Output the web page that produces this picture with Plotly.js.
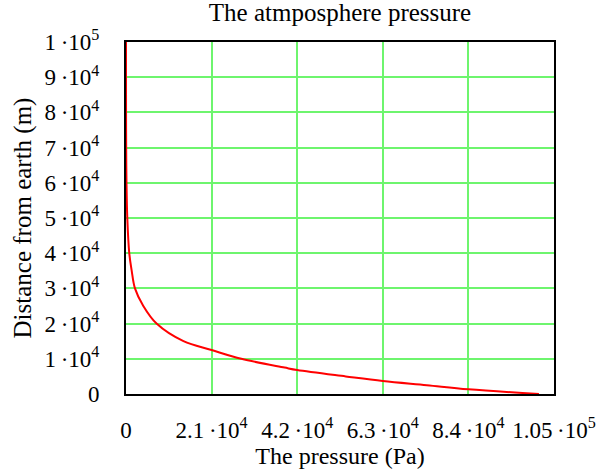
<!DOCTYPE html>
<html>
<head>
<meta charset="utf-8">
<script src="https://cdn.plot.ly/plotly-3.0.1.min.js"></script>
<style>html,body{margin:0;padding:0;background:#fff;}#chart{width:597px;height:471px;}</style>
</head>
<body>
<div id="chart"></div>
<script>
// Values
const heights = [0, 1330, 2500, 3690, 5000, 6820, 7500, 10000, 12500, 15000, 20000, 25000, 30000, 35000, 40000, 50000, 60000, 70000, 80000, 90000, 100000];
const pressures = [101300, 84000, 73800, 63000, 53900, 42000, 38900, 28300, 21000, 14100, 7500, 4250, 2200, 1400, 800, 320, 120, 45, 15, 5, 2];

const xTickVals = [0, 21000, 42000, 63000, 84000, 105000];
const xTickText = ["0", "2.1\u2009·10<sup>4</sup>", "4.2\u2009·10<sup>4</sup>", "6.3\u2009·10<sup>4</sup>", "8.4\u2009·10<sup>4</sup>", "1.05\u2009·10<sup>5</sup>"];
const yTickVals = [0, 10000, 20000, 30000, 40000, 50000, 60000, 70000, 80000, 90000, 100000];
const yTickText = ["0", "1\u2009·10<sup>4</sup>", "2\u2009·10<sup>4</sup>", "3\u2009·10<sup>4</sup>", "4\u2009·10<sup>4</sup>", "5\u2009·10<sup>4</sup>", "6\u2009·10<sup>4</sup>", "7\u2009·10<sup>4</sup>", "8\u2009·10<sup>4</sup>", "9\u2009·10<sup>4</sup>", "1\u2009·10<sup>5</sup>"];

const FONT = '"Liberation Serif", "DejaVu Serif", serif';
const GRID = 'rgb(110,245,110)';

const trace = {
  x: pressures, y: heights, type: 'scatter', mode: 'lines',
  line: {color: 'rgb(255,0,0)', width: 2, shape: 'spline'},
  hoverinfo: 'none'
};

const layout = {
  width: 597, height: 471,
  margin: {l: 126, r: 43, t: 42, b: 77},
  paper_bgcolor: '#fff', plot_bgcolor: '#fff',
  showlegend: false,
  font: {family: FONT, color: '#000', size: 23},
  title: {text: 'The atmposphere pressure', font: {family: FONT, size: 25, color: '#000'}, x: 340/597, xanchor: 'center', y: 0.992, yanchor: 'top'},
  xaxis: {
    range: [0, 105000], tickmode: 'array', tickvals: xTickVals, ticktext: xTickText,
    showgrid: true, gridcolor: GRID, gridwidth: 2, zeroline: false,
    showline: true, linecolor: '#000', linewidth: 2, mirror: true,
    ticks: '', ticklabelstandoff: 14, tickfont: {family: FONT, size: 23, color: '#000'},
    title: {text: 'The pressure (Pa)', font: {family: FONT, size: 24, color: '#000'}, standoff: 0}
  },
  yaxis: {
    range: [0, 100000], tickmode: 'array', tickvals: yTickVals, ticktext: yTickText,
    showgrid: true, gridcolor: GRID, gridwidth: 2, zeroline: false,
    showline: true, linecolor: '#000', linewidth: 2, mirror: true,
    ticks: '', ticklabelstandoff: 20, tickfont: {family: FONT, size: 23, color: '#000'},
    title: {text: 'Distance from earth (m)', font: {family: FONT, size: 25, color: '#000'}, standoff: 6}
  }
};

Plotly.newPlot('chart', [trace], layout, {staticPlot: true, displayModeBar: false});
</script>
</body>
</html>
